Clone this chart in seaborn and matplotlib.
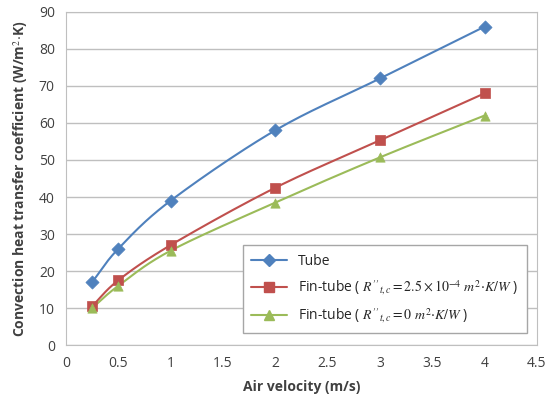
import numpy as np
import pandas as pd
import seaborn as sns
import matplotlib.pyplot as plt
from matplotlib.lines import Line2D

velocity = [0.25, 0.5, 1, 2, 3, 4]
tube = [17, 26, 39, 58, 72, 86]
fin_fouled = [10.5, 17.5, 27, 42.5, 55.3, 68]
fin_clean = [10, 16, 25.5, 38.5, 50.7, 62]

labels = ['Tube',
          r"Fin-tube ( $R''_{t,c}=2.5\times10^{-4}\ m^2{\cdot}K/W$ )",
          r"Fin-tube ( $R''_{t,c}=0\ m^2{\cdot}K/W$ )"]
colors = ['#4F81BD', '#C0504D', '#9BBB59']
markers = ['D', 's', '^']

df = pd.DataFrame({'v': velocity, 'Tube': tube, 'F1': fin_fouled, 'F2': fin_clean})
df = df.melt(id_vars='v', var_name='series', value_name='h')

sns.set_style('white')
plt.rcParams['font.family'] = ['Open Sans', 'DejaVu Sans']
plt.rcParams['mathtext.fontset'] = 'stix'

fig, ax = plt.subplots(figsize=[5.49, 4.08], dpi=100)
ax.set_position([0.12, 0.154, 0.858, 0.817])


def smooth(x, y, n=30):
    # catmull-rom style smoothing, like excel's smoothed line
    x = np.asarray(x, float); y = np.asarray(y, float)
    px = np.r_[2 * x[0] - x[1], x, 2 * x[-1] - x[-2]]
    py = np.r_[2 * y[0] - y[1], y, 2 * y[-1] - y[-2]]
    xs, ys = [], []
    t = np.linspace(0, 1, n)
    for i in range(1, len(px) - 2):
        for p, out in ((px, xs), (py, ys)):
            p0, p1, p2, p3 = p[i - 1], p[i], p[i + 1], p[i + 2]
            out.extend(0.5 * (2 * p1 + (-p0 + p2) * t + (2 * p0 - 5 * p1 + 4 * p2 - p3) * t ** 2
                              + (-p0 + 3 * p1 - 3 * p2 + p3) * t ** 3))
    return xs, ys


handles = []
for key, lab, c, m in zip(['Tube', 'F1', 'F2'], labels, colors, markers):
    d = df[df.series == key]
    xs, ys = smooth(d.v, d.h)
    ax.plot(xs, ys, color=c, lw=1.5, zorder=2)
    sns.scatterplot(x=d.v, y=d.h, marker=m, color=c, s=45, edgecolor=c, linewidth=0.5, ax=ax, zorder=3)
    handles.append(Line2D([], [], color=c, marker=m, markersize=6.5, lw=1.5, label=lab))

ax.set_xlim(0, 4.5)
ax.set_ylim(0, 90)
ax.set_xticks(np.arange(0, 4.51, 0.5))
ax.set_xticklabels(['0', '0.5', '1', '1.5', '2', '2.5', '3', '3.5', '4', '4.5'])
ax.set_yticks(range(0, 91, 10))
ax.yaxis.grid(True, color='#BFBFBF', lw=1)
for s in ax.spines.values():
    s.set_color('#BFBFBF')
ax.tick_params(axis='both', length=0, labelsize=10, colors='#404040', pad=8)
ax.set_xlabel('Air velocity (m/s)', fontsize=10, fontweight='bold', color='#404040', labelpad=6)
ax.set_ylabel(r'Convection heat transfer coefficient (W/m$^2$$\cdot$K)', fontsize=10,
              fontweight='bold', color='#404040', labelpad=6)

leg = ax.legend(handles=handles, loc='lower right', bbox_to_anchor=(0.978, 0.036), fontsize=10,
                borderaxespad=0, frameon=True, fancybox=False, edgecolor='#A6A6A6', framealpha=1,
                handlelength=2.6, borderpad=0.6, labelspacing=0.7)
leg.get_frame().set_linewidth(1)

plt.savefig('out.png', dpi=100)
plt.close()
